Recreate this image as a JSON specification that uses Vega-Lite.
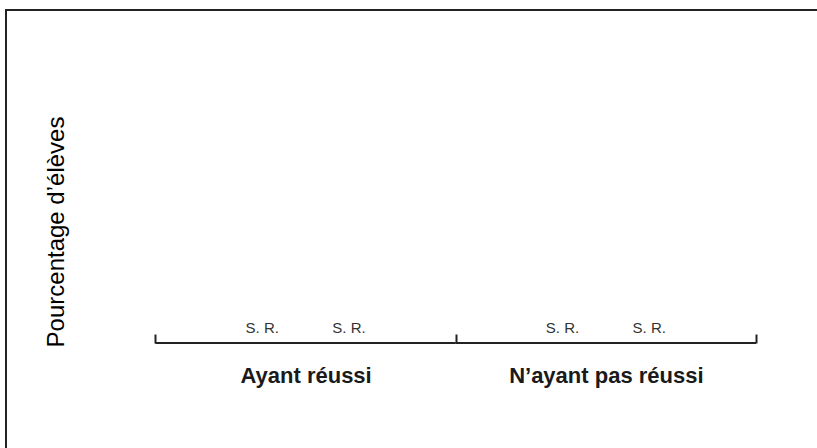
{
  "$schema": "https://vega.github.io/schema/vega-lite/v6.json",
  "width": 820,
  "height": 443,
  "autosize": {"type": "none"},
  "padding": {"left": 6, "top": 10, "right": 0, "bottom": 0},
  "background": "white",
  "config": {
    "view": {"stroke": "#222222", "strokeWidth": 2},
    "font": "Liberation Sans"
  },
  "datasets": {
    "resultats": [
      {"groupe": "Ayant réussi", "serie": "1", "valeur": null, "etiquette": "S. R."},
      {"groupe": "Ayant réussi", "serie": "2", "valeur": null, "etiquette": "S. R."},
      {"groupe": "N’ayant pas réussi", "serie": "1", "valeur": null, "etiquette": "S. R."},
      {"groupe": "N’ayant pas réussi", "serie": "2", "valeur": null, "etiquette": "S. R."}
    ]
  },
  "data": {"name": "resultats"},
  "encoding": {
    "x": {
      "field": "groupe",
      "type": "nominal",
      "sort": null,
      "scale": {"type": "band", "paddingInner": 0, "paddingOuter": 0.3655, "align": 0.681},
      "axis": {
        "orient": "bottom",
        "offset": -110,
        "title": null,
        "labelAngle": 0,
        "domain": false,
        "grid": false,
        "tickBand": "extent",
        "tickSize": -9,
        "tickColor": "#222222",
        "tickWidth": 2,
        "labelFont": "Liberation Sans",
        "labelFontSize": 22,
        "labelFontWeight": "bold",
        "labelColor": "#1a1a1a",
        "labelPadding": 48,
        "labelLimit": 0,
        "labelBaseline": "alphabetic"
      }
    }
  },
  "layer": [
    {
      "transform": [{"aggregate": [{"op": "count", "as": "n"}], "groupby": ["groupe"]}],
      "mark": {"type": "bar", "color": "#222222", "width": {"band": 1}},
      "encoding": {
        "y": {
          "datum": 0.3,
          "type": "quantitative",
          "scale": {"domain": [-33.03, 100], "nice": false, "zero": false},
          "axis": {
            "title": "Pourcentage d’élèves",
            "orient": "left",
            "offset": -57,
            "domain": false,
            "ticks": false,
            "labels": false,
            "grid": false,
            "titleFont": "Liberation Sans",
            "titleFontSize": 24,
            "titleFontWeight": "normal",
            "titleColor": "#000000",
            "titlePadding": 0,
            "titleBaseline": "alphabetic"
          }
        },
        "y2": {"datum": -0.3}
      }
    },
    {
      "mark": {"type": "text", "align": "center", "baseline": "alphabetic", "dy": -10, "fontSize": 15, "color": "#333333", "font": "Liberation Sans"},
      "encoding": {
        "xOffset": {"field": "serie", "type": "nominal", "scale": {"type": "band", "paddingInner": 0, "paddingOuter": 0.73}},
        "y": {
          "datum": 0,
          "type": "quantitative",
          "axis": {
            "title": "Pourcentage d’élèves",
            "orient": "left",
            "offset": -57,
            "domain": false,
            "ticks": false,
            "labels": false,
            "grid": false,
            "titleFont": "Liberation Sans",
            "titleFontSize": 24,
            "titleFontWeight": "normal",
            "titleColor": "#000000",
            "titlePadding": 0,
            "titleBaseline": "alphabetic"
          }
        },
        "text": {"field": "etiquette"}
      }
    }
  ]
}
